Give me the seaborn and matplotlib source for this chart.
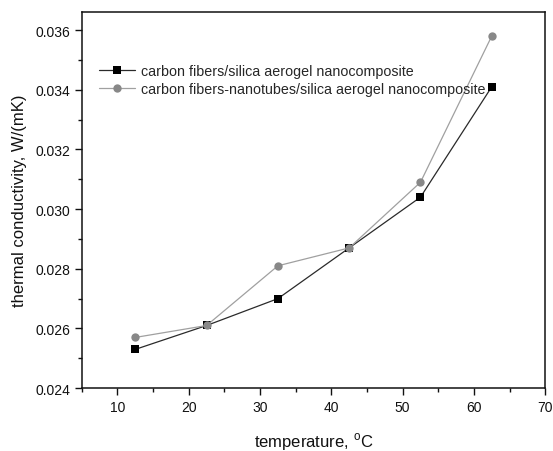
import pandas as pd
import numpy as np
import seaborn as sns
import matplotlib.pyplot as plt
from matplotlib.ticker import MultipleLocator

temperature = [12.5, 22.5, 32.5, 42.5, 52.5, 62.5]
cf_silica = [0.0253, 0.0261, 0.0270, 0.0287, 0.0304, 0.0341]
cfnt_silica = [0.0257, 0.0261, 0.0281, 0.0287, 0.0309, 0.0358]
labels = ["carbon fibers/silica aerogel nanocomposite",
          "carbon fibers-nanotubes/silica aerogel nanocomposite"]

sns.set_style("ticks")
plt.rcParams['font.family'] = ['Liberation Sans', 'DejaVu Sans']

df = pd.DataFrame({
    'temperature': temperature * 2,
    'k': cf_silica + cfnt_silica,
    'sample': [labels[0]] * 6 + [labels[1]] * 6,
})

fig = plt.figure(figsize=(5.53, 4.52), dpi=100)
ax = fig.add_axes([0.148, 0.139, 0.838, 0.832])

sns.lineplot(data=df, x='temperature', y='k', hue='sample', style='sample',
             palette=['#2a2a2a', '#a0a0a0'], markers=['s', 'o'], dashes=False,
             markersize=6, markeredgewidth=0, linewidth=0.9, ax=ax)
# marker colors darker than line for the grey series
for line, mc in zip(ax.get_lines()[:2], ['#000000', '#888888']):
    line.set_markerfacecolor(mc)

ax.set_xlim(5, 70)
ax.set_ylim(0.024, 0.0366)
ax.xaxis.set_major_locator(MultipleLocator(10))
ax.xaxis.set_minor_locator(MultipleLocator(5))
ax.yaxis.set_major_locator(MultipleLocator(0.002))
ax.yaxis.set_minor_locator(MultipleLocator(0.001))
ax.yaxis.set_major_formatter(plt.FuncFormatter(lambda v, p: f"{v:.3f}"))
ax.tick_params(which='major', length=5, width=1, labelsize=10, colors='#111111')
ax.tick_params(which='minor', length=3, width=1, colors='#111111')
for s in ax.spines.values():
    s.set_visible(True)
    s.set_linewidth(1.1)
    s.set_color('#111111')
ax.set_xticks([10, 20, 30, 40, 50, 60, 70])

ax.set_xlabel("temperature, $^{\\mathregular{o}}$C", fontsize=12, labelpad=12, color='#111111')
ax.set_ylabel("thermal conductivity, W/(mK)", fontsize=12, labelpad=6, color='#111111')

leg = ax.legend(loc='upper left', bbox_to_anchor=(0.01, 0.895), frameon=False,
                fontsize=10.3, handlelength=2.5, handletextpad=0.4,
                labelspacing=0.25, title=None)
handles = leg.legend_handles
for h, mc in zip(handles, ['#000000', '#888888']):
    h.set_markerfacecolor(mc)

fig.savefig("out.png", dpi=100)
